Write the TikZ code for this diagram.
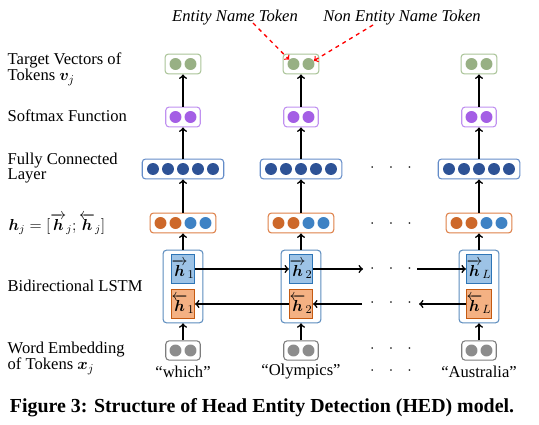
\documentclass[tikz,border=0pt]{standalone}
\usepackage{fontspec}
\setmainfont{Liberation Serif}
\usepackage{amsmath,amssymb,bm}
\usetikzlibrary{arrows,calc}

\definecolor{tgtdot}{RGB}{152,176,132}
\definecolor{tgtline}{RGB}{170,196,152}
\definecolor{smdot}{RGB}{164,94,229}
\definecolor{smline}{RGB}{192,145,240}
\definecolor{fcdot}{RGB}{45,82,150}
\definecolor{fcline}{RGB}{100,140,200}
\definecolor{hdotA}{RGB}{205,104,42}
\definecolor{hdotB}{RGB}{62,130,196}
\definecolor{hline}{RGB}{222,128,72}
\definecolor{lstmline}{RGB}{92,140,190}
\definecolor{fwfill}{RGB}{157,195,230}
\definecolor{fwline}{RGB}{46,117,182}
\definecolor{bwfill}{RGB}{244,177,131}
\definecolor{bwline}{RGB}{197,90,17}
\definecolor{embdot}{RGB}{140,140,140}
\definecolor{embline}{RGB}{125,125,125}

\begin{document}
\begin{tikzpicture}[x=0.0265cm, y=-0.0265cm, font=\fontsize{12.5}{10.5}\selectfont,
    vecbox/.style={draw, rounded corners=2.5pt, line width=0.8pt, fill=white, minimum height=15pt, inner sep=0pt},
    dot/.style={circle, minimum size=9pt, inner sep=0pt},
    cell/.style={draw, line width=1pt, minimum width=16.5pt, minimum height=21.5pt, inner sep=0pt, font=\fontsize{13}{13}\selectfont},
    link/.style={->, line width=1.2pt},
    hint/.style={->, red, dashed, line width=1pt},
    more/.style={inner sep=0pt}]
    \useasboundingbox (0,0) rectangle (539,425);

    % Row labels
    \node[anchor=west, align=left] (lbl-tgt) at (3,69) {Target Vectors of\\Tokens $\boldsymbol{v}_j$};
    \node[anchor=west] (lbl-sm) at (3,116) {Softmax Function};
    \node[anchor=west, align=left] (lbl-fc) at (3,168) {Fully Connected\\Layer};
    \node[anchor=west, font=\fontsize{11.5}{11.5}\selectfont] (lbl-h) at (4,224) {$\boldsymbol{h}_j = [\overrightarrow{\boldsymbol{h}}_j;\overleftarrow{\boldsymbol{h}}_j]$};
    \node[anchor=west] (lbl-lstm) at (3,286) {Bidirectional LSTM};
    \node[anchor=west, align=left] (lbl-emb) at (3,358) {Word Embedding\\of Tokens $\boldsymbol{x}_j$};

    % Columns
    \foreach \c/\x/\i/\w in {1/183/1/which, 2/301/2/Olympics, 3/479/L/Australia} {
        \node[vecbox, draw=tgtline, minimum width=27pt] (tgt\c) at (\x,64) {};
        \node[vecbox, draw=smline, minimum width=26pt] (sm\c) at (\x,117) {};
        \node[vecbox, draw=fcline, minimum width=61.5pt] (fc\c) at (\x,169) {};
        \node[vecbox, draw=hline, minimum width=49.5pt] (hc\c) at (\x,223) {};
        \node[vecbox, draw=lstmline, minimum width=30pt, minimum height=54.75pt] (lstm\c) at (\x,286.5) {};
        \node[cell, draw=fwline, fill=fwfill] (fw\c) at (\x,269) {$\overrightarrow{\boldsymbol{h}}_{\i}$};
        \node[cell, draw=bwline, fill=bwfill] (bw\c) at (\x,304) {$\overleftarrow{\boldsymbol{h}}_{\i}$};
        \node[vecbox, draw=embline, minimum width=26pt, minimum height=14.5pt] (emb\c) at (\x,350.5) {};
        \node (word\c) at (\x,372) {``\w''};
        \foreach \k in {1,2} {
            \node[dot, fill=tgtdot] (tgt\c-\k) at ({\x+15*\k-22.5},64) {};
            \node[dot, fill=smdot] (sm\c-\k) at ({\x+15*\k-22.5},117) {};
            \node[dot, fill=embdot] (emb\c-\k) at ({\x+15*\k-22.5},350.5) {};
            \node[dot, fill=hdotA] (hc\c-\k) at ({\x+15*\k-37.5},223) {};
            \node[dot, fill=hdotB] (hc\c-\k b) at ({\x+15*\k-7.5},223) {};
        }
        \foreach \k in {1,...,5}
            \node[dot, fill=fcdot] (fc\c-\k) at ({\x+15*\k-45},169) {};
        % upward flow
        \draw[link] (emb\c) -- (lstm\c);
        \draw[link] (lstm\c) -- (hc\c);
        \draw[link] (hc\c) -- (fc\c);
        \draw[link] (fc\c) -- (sm\c);
        \draw[link] (sm\c) -- (tgt\c);
    }

    % Recurrent links
    \coordinate (fw-out) at (363,269);
    \coordinate (fw-in) at (417,269);
    \coordinate (bw-out) at (419,304);
    \coordinate (bw-in) at (362,304);
    \draw[link] (fw1) -- (fw2);
    \draw[link] (fw2) -- (fw-out);
    \draw[link] (fw-in) -- (fw3);
    \draw[link] (bw2) -- (bw1);
    \draw[link] (bw-in) -- (bw2);
    \draw[link] (bw3) -- (bw-out);

    % Ellipses between columns
    \foreach \y/\n in {168/fc, 224/h, 269/fw, 303/bw, 349/emb, 371/word}
        \node[more] (dots-\n) at (391,\y) {$\cdot\hskip8pt\cdot\hskip8pt\cdot$};

    % Token type hints
    \node[font=\fontsize{12.5}{12.5}\selectfont\itshape] (ent) at (235,18) {Entity Name Token};
    \node[font=\fontsize{12.5}{12.5}\selectfont\itshape] (nonent) at (402,18) {Non Entity Name Token};
    \coordinate (ent-tail) at (253,23);
    \coordinate (nonent-tail) at (373,25);
    \draw[hint] (ent-tail) -- (tgt2-1);
    \draw[hint] (nonent-tail) -- (tgt2-2);

    % Caption
    \node[font=\fontsize{15}{15}\selectfont\bfseries] (caption) at (262,408) {Figure 3: Structure of Head Entity Detection (HED) model.};
\end{tikzpicture}
\end{document}
